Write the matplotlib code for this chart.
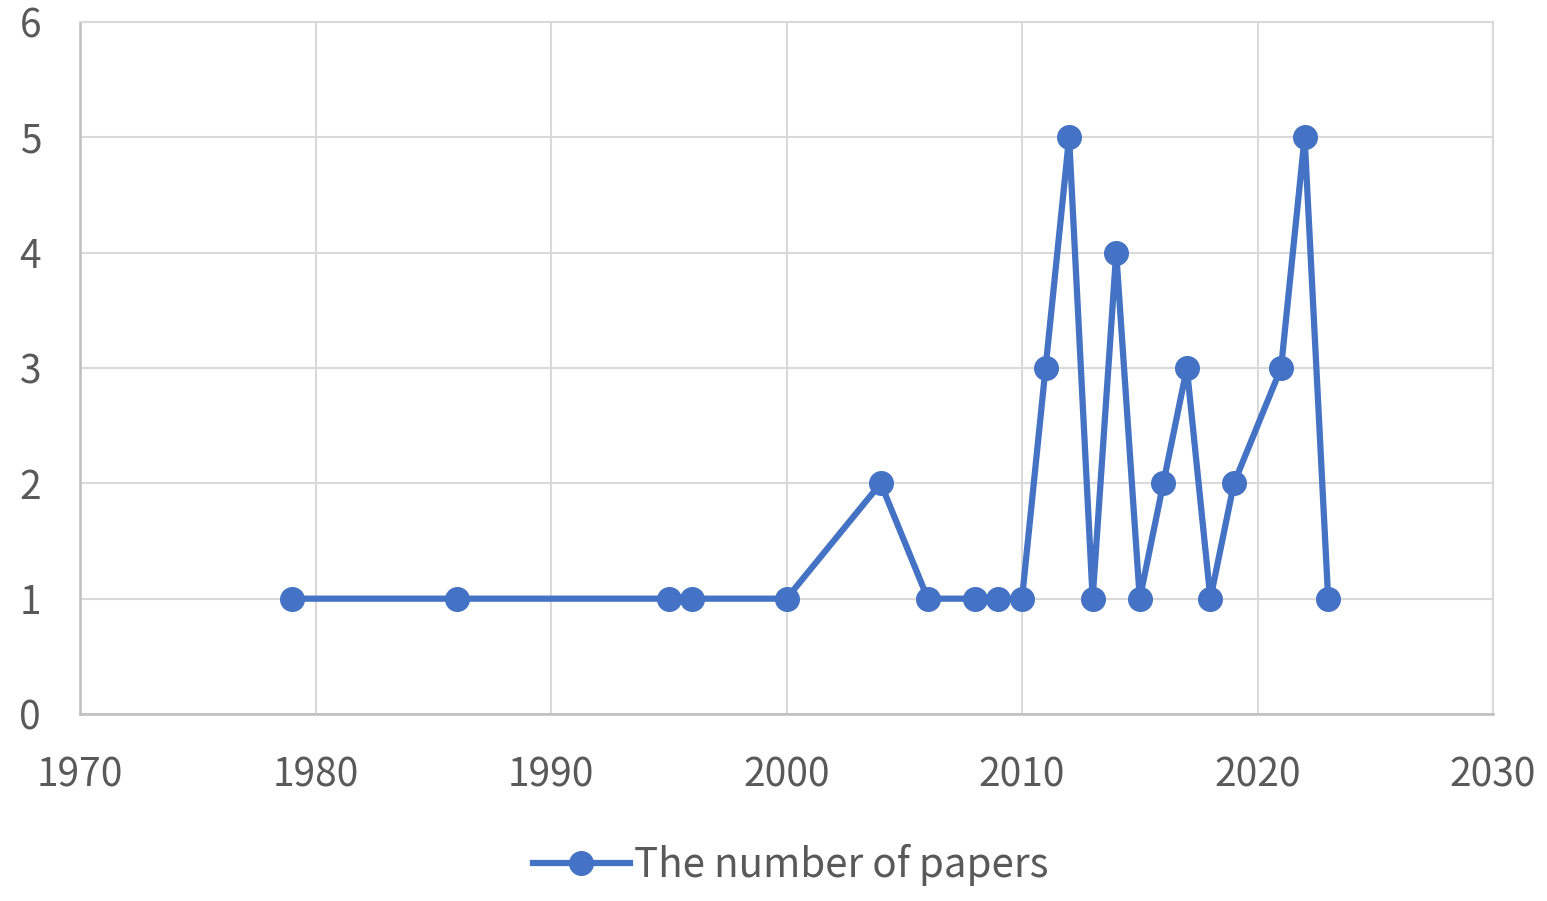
import matplotlib.pyplot as plt

plt.rcParams['font.family'] = ['Noto Sans CJK KR', 'DejaVu Sans']

years = [1979, 1986, 1995, 1996, 2000, 2004, 2006, 2008, 2009, 2010, 2011,
         2012, 2013, 2014, 2015, 2016, 2017, 2018, 2019, 2021, 2022, 2023]
papers = [1, 1, 1, 1, 1, 2, 1, 1, 1, 1, 3,
          5, 1, 4, 1, 2, 3, 1, 2, 3, 5, 1]
x_ticks = [1970, 1980, 1990, 2000, 2010, 2020, 2030]
y_ticks = [0, 1, 2, 3, 4, 5, 6]

blue = "#4472C4"
text_gray = "#595959"

fig = plt.figure(figsize=(15.47, 9.01), dpi=100)
ax = fig.add_axes([80 / 1547, 1 - 714 / 901, (1493 - 80) / 1547, (714 - 22) / 901])

ax.plot(years, papers, color=blue, linewidth=4.5, marker="o", markersize=17,
        label="The number of papers", zorder=3, clip_on=False)

ax.set_xlim(1970, 2030)
ax.set_ylim(0, 6)
ax.set_xticks(x_ticks)
ax.set_yticks(y_ticks)
ax.grid(True, color="#D9D9D9", linewidth=1.5, zorder=0)
ax.tick_params(axis="both", length=0, labelsize=28, colors=text_gray)
ax.tick_params(axis="x", pad=30)
ax.tick_params(axis="y", pad=28)

for side in ["top", "right"]:
    ax.spines[side].set_color("#D9D9D9")
    ax.spines[side].set_linewidth(1.5)
for side in ["left", "bottom"]:
    ax.spines[side].set_color("#BFBFBF")
    ax.spines[side].set_linewidth(1.8)

fig.legend(loc="center", bbox_to_anchor=(0.511, 0.04), frameon=False,
           fontsize=29, labelcolor=text_gray, handlelength=2.4,
           handletextpad=0.1)

fig.savefig("out.png", dpi=100)
